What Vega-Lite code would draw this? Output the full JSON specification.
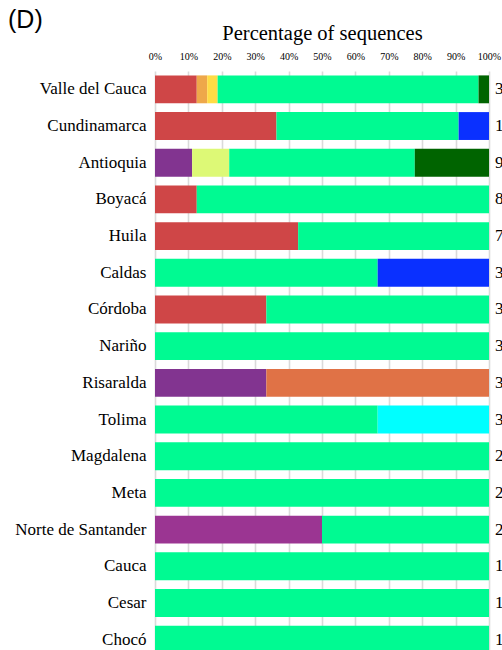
{
  "$schema": "https://vega.github.io/schema/vega-lite/v6.json",
  "autosize": {"type": "none"},
  "padding": {"left": 155, "top": 71, "right": 13, "bottom": 0},
  "width": 334,
  "height": 587,
  "background": "white",
  "title": {
    "text": "(D)",
    "anchor": "start",
    "frame": "group",
    "dx": -147,
    "dy": 14,
    "font": "Liberation Sans",
    "fontSize": 25,
    "fontWeight": "normal",
    "color": "black"
  },
  "config": {
    "view": {"stroke": null},
    "font": "Liberation Serif",
    "axisX": {"labelOverlap": false, "labelFlush": false}
  },
  "data": {
    "values": [
      {"province": "Valle del Cauca", "lineage": "A", "count": 4},
      {"province": "Valle del Cauca", "lineage": "B", "count": 1},
      {"province": "Valle del Cauca", "lineage": "C", "count": 1},
      {"province": "Valle del Cauca", "lineage": "G", "count": 25},
      {"province": "Valle del Cauca", "lineage": "H", "count": 1},
      {"province": "Cundinamarca", "lineage": "A", "count": 4},
      {"province": "Cundinamarca", "lineage": "G", "count": 6},
      {"province": "Cundinamarca", "lineage": "I", "count": 1},
      {"province": "Antioquia", "lineage": "D", "count": 1},
      {"province": "Antioquia", "lineage": "F", "count": 1},
      {"province": "Antioquia", "lineage": "G", "count": 5},
      {"province": "Antioquia", "lineage": "H", "count": 2},
      {"province": "Boyacá", "lineage": "A", "count": 1},
      {"province": "Boyacá", "lineage": "G", "count": 7},
      {"province": "Huila", "lineage": "A", "count": 3},
      {"province": "Huila", "lineage": "G", "count": 4},
      {"province": "Caldas", "lineage": "G", "count": 2},
      {"province": "Caldas", "lineage": "I", "count": 1},
      {"province": "Córdoba", "lineage": "A", "count": 1},
      {"province": "Córdoba", "lineage": "G", "count": 2},
      {"province": "Nariño", "lineage": "G", "count": 3},
      {"province": "Risaralda", "lineage": "D", "count": 1},
      {"province": "Risaralda", "lineage": "J", "count": 2},
      {"province": "Tolima", "lineage": "G", "count": 2},
      {"province": "Tolima", "lineage": "K", "count": 1},
      {"province": "Magdalena", "lineage": "G", "count": 2},
      {"province": "Meta", "lineage": "G", "count": 2},
      {"province": "Norte de Santander", "lineage": "E", "count": 1},
      {"province": "Norte de Santander", "lineage": "G", "count": 1},
      {"province": "Cauca", "lineage": "G", "count": 1},
      {"province": "Cesar", "lineage": "G", "count": 1},
      {"province": "Chocó", "lineage": "G", "count": 1}
    ]
  },
  "encoding": {
    "y": {
      "field": "province",
      "type": "nominal",
      "sort": ["Valle del Cauca", "Cundinamarca", "Antioquia", "Boyacá", "Huila", "Caldas", "Córdoba", "Nariño", "Risaralda", "Tolima", "Magdalena", "Meta", "Norte de Santander", "Cauca", "Cesar", "Chocó"],
      "scale": {"paddingInner": 0.24, "paddingOuter": 0.12},
      "axis": {
        "title": null,
        "ticks": false,
        "domain": false,
        "labelPadding": 9,
        "labelFont": "Liberation Serif",
        "labelFontSize": 17,
        "labelColor": "black",
        "labelLimit": 300
      }
    }
  },
  "layer": [
    {
      "mark": {"type": "bar"},
      "encoding": {
        "x": {
          "aggregate": "sum",
          "field": "count",
          "type": "quantitative",
          "stack": "normalize",
          "scale": {"domain": [0, 1], "nice": false},
          "axis": {
            "orient": "top",
            "format": "%",
            "values": [0, 0.1, 0.2, 0.3, 0.4, 0.5, 0.6, 0.7, 0.8, 0.9, 1],
            "title": "Percentage of sequences",
            "titleFont": "Liberation Serif",
            "titleFontSize": 20.5,
            "titleFontWeight": "normal",
            "titleColor": "black",
            "titlePadding": 8,
            "ticks": false,
            "domain": false,
            "labelPadding": 10,
            "labelFont": "Liberation Serif",
            "labelFontSize": 10,
            "labelColor": "black",
            "labelFlush": false,
            "labelOverlap": false,
            "grid": true,
            "gridColor": "#dadada",
            "gridWidth": 1.6
          }
        },
        "color": {
          "field": "lineage",
          "type": "nominal",
          "legend": null,
          "scale": {
            "domain": ["A", "B", "C", "D", "E", "F", "G", "H", "I", "J", "K"],
            "range": ["#cf4647", "#eea84a", "#ffdc45", "#823490", "#9b3592", "#ddf976", "#00fa92", "#006400", "#0a30ff", "#e07246", "#00ffff"]
          }
        },
        "order": {"field": "lineage", "sort": "ascending"}
      }
    },
    {
      "mark": {"type": "text", "align": "left", "baseline": "middle", "dx": 6, "font": "Liberation Serif", "fontSize": 17, "color": "black"},
      "encoding": {
        "x": {
          "datum": 1,
          "type": "quantitative",
          "axis": {
            "orient": "top",
            "format": "%",
            "values": [0, 0.1, 0.2, 0.3, 0.4, 0.5, 0.6, 0.7, 0.8, 0.9, 1],
            "title": "Percentage of sequences",
            "titleFont": "Liberation Serif",
            "titleFontSize": 20.5,
            "titleFontWeight": "normal",
            "titleColor": "black",
            "titlePadding": 8,
            "ticks": false,
            "domain": false,
            "labelPadding": 10,
            "labelFont": "Liberation Serif",
            "labelFontSize": 10,
            "labelColor": "black",
            "labelFlush": false,
            "labelOverlap": false,
            "grid": true,
            "gridColor": "#dadada",
            "gridWidth": 1.6
          }
        },
        "text": {"aggregate": "sum", "field": "count", "type": "quantitative"}
      }
    }
  ]
}
